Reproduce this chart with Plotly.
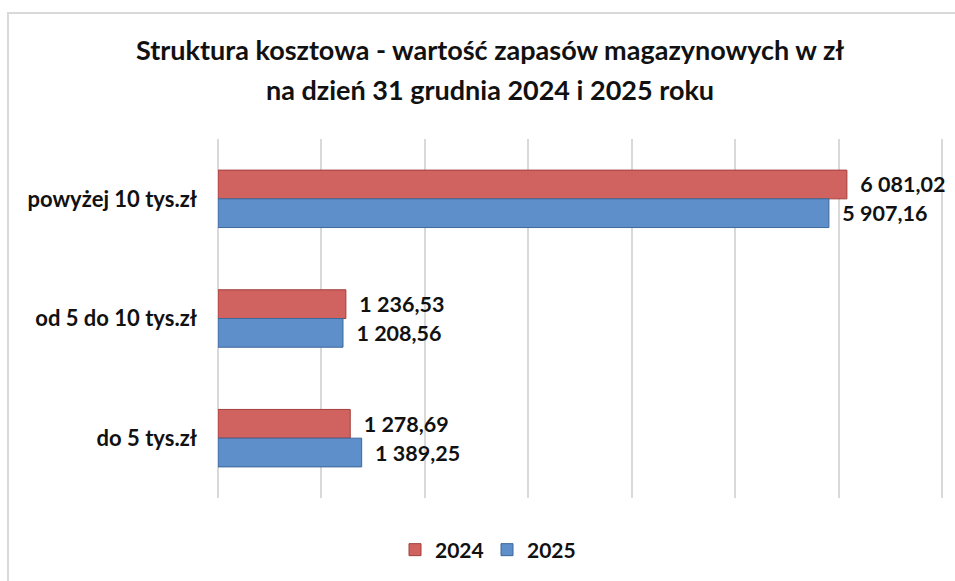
import plotly.graph_objects as go

categories = ["powyżej 10 tys.zł", "od 5 do 10 tys.zł", "do 5 tys.zł"]
values_2024 = [6081.02, 1236.53, 1278.69]
values_2025 = [5907.16, 1208.56, 1389.25]
series_names = ["2024", "2025"]
title_lines = ["Struktura kosztowa - wartość zapasów magazynowych w zł",
               "na dzień 31 grudnia 2024 i 2025 roku"]

FONT = "Lato"
W, H = 955, 581
L, R, T, B = 218, 11, 139, 83
pw, ph = W - L - R, H - T - B

def px_x(x):
    return (x - L) / pw

def px_y(y):
    return (H - B - y) / ph

fig = go.Figure()
fig.add_trace(go.Bar(
    y=categories, x=values_2024, name=series_names[0], orientation="h",
    marker=dict(color="#D0625F", line=dict(color="#A33F3C", width=1)),
    texttemplate="  %{x:,.2f}", textposition="outside",
    textfont=dict(family=FONT, size=21.5, color="#111111", weight="bold"),
    cliponaxis=False,
))
fig.add_trace(go.Bar(
    y=categories, x=values_2025, name=series_names[1], orientation="h",
    marker=dict(color="#5E8FCB", line=dict(color="#3D6799", width=1)),
    texttemplate="  %{x:,.2f}", textposition="outside",
    textfont=dict(family=FONT, size=21.5, color="#111111", weight="bold"),
    cliponaxis=False,
))

fig.update_layout(
    width=W, height=H,
    margin=dict(l=L, r=R, t=T, b=B),
    paper_bgcolor="white", plot_bgcolor="white",
    barmode="group", bargap=0.52, bargroupgap=0,
    separators=", ",
    showlegend=True,
    legend=dict(orientation="h", x=px_x(487), xanchor="center",
                y=px_y(550), yanchor="middle",
                font=dict(family=FONT, size=21, color="#111111", weight="bold"),
                entrywidth=47, entrywidthmode="pixels",
                tracegroupgap=0),
    xaxis=dict(range=[0, 7020], tickvals=[0, 1000, 2000, 3000, 4000, 5000, 6000, 7000],
               showticklabels=False,
               showgrid=True, gridcolor="#D9D9D9", gridwidth=2,
               zeroline=True, zerolinecolor="#D9D9D9", zerolinewidth=2,
               showline=False, fixedrange=True),
    yaxis=dict(autorange="reversed", showgrid=False, showline=False,
               ticks="", ticklabelstandoff=20,
               tickfont=dict(family=FONT, size=22, color="#111111", weight="bold")),
    annotations=[
        dict(text=title_lines[0], xref="paper", yref="paper",
             x=px_x(490), y=px_y(50), xanchor="center", yanchor="middle",
             showarrow=False,
             font=dict(family=FONT, size=27, color="#111111", weight="bold")),
        dict(text=title_lines[1], xref="paper", yref="paper",
             x=px_x(490), y=px_y(89), xanchor="center", yanchor="middle",
             showarrow=False,
             font=dict(family=FONT, size=27, color="#111111", weight="bold")),
    ],
    shapes=[dict(type="rect", xref="paper", yref="paper", layer="below",
                 x0=px_x(8), x1=px_x(965), y0=px_y(595), y1=px_y(13),
                 line=dict(color="#D9D9D9", width=2), fillcolor="rgba(0,0,0,0)")],
)

fig.write_html("out.html", config={"displayModeBar": False},
               post_script="document.body.style.margin='0';document.body.style.overflow='hidden';")
